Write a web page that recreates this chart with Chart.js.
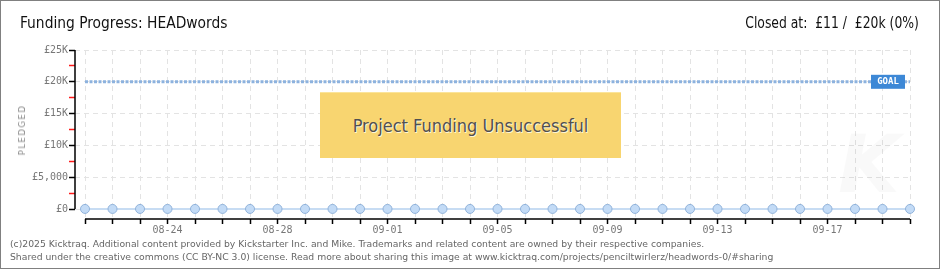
<!DOCTYPE html>
<html>
<head>
<meta charset="utf-8">
<script src="https://cdn.jsdelivr.net/npm/chart.js@4"></script>
<style>
  html, body { margin: 0; padding: 0; background: #fff; }
  #wrap { position: relative; width: 940px; height: 270px; overflow: hidden; }
  #frame { position: absolute; left: 0; top: 0; width: 938px; height: 267px; border: 1px solid #808080; pointer-events: none; }
  canvas { position: absolute; left: 0; top: 0; }
  .txt { position: absolute; white-space: nowrap; font-family: "DejaVu Sans", sans-serif; }
  #title { left: 20px; top: 13px; font-size: 16px; color: #111; font-stretch: condensed; transform-origin: left top; transform: scaleX(0.96); }
  #closed { right: 21px; top: 13px; font-size: 16px; color: #111; font-stretch: condensed; transform-origin: right top; transform: scaleX(0.86); }
  #ylab { left: 22px; top: 130px; font-size: 8.5px; color: #888; letter-spacing: 1.5px; transform: translate(-50%, -50%) rotate(-90deg); }
  #fail { left: 320px; top: 92px; width: 301px; height: 66px; background: #f8d570;
          border-top: 1px solid #fbe49a; box-sizing: border-box;
          display: flex; align-items: center; justify-content: center;
          font-family: "DejaVu Sans", sans-serif; font-stretch: condensed; font-size: 18px; color: #505050;
          text-shadow: 1px 1px 0 #fff6d8; }
  #wm { left: 838px; top: 118px; font-size: 80px; font-style: italic; color: rgba(0,0,0,0.025); font-weight: bold; }
  #foot { left: 10px; top: 237px; font-size: 9.25px; line-height: 13px; color: #666; }
</style>
</head>
<body>
<div id="wrap">
  <canvas id="c" width="940" height="270"></canvas>
  <div class="txt" id="wm">K</div>
  <div class="txt" id="fail">Project Funding Unsuccessful</div>
  <div class="txt" id="title">Funding Progress: HEADwords</div>
  <div class="txt" id="closed">Closed at:&nbsp; £11 / &nbsp;£20k (0%)</div>
  <div class="txt" id="ylab">PLEDGED</div>
  <div class="txt" id="foot">(c)2025 Kicktraq. Additional content provided by Kickstarter Inc. and Mike. Trademarks and related content are owned by their respective companies.<br>Shared under the creative commons (CC BY-NC 3.0) license. Read more about sharing this image at www.kicktraq.com/projects/penciltwirlerz/headwords-0/#sharing</div>
  <div id="frame"></div>
</div>
<script>
// dias 08-21 .. 09-20
const dates = [
  "08-21","08-22","08-23","08-24","08-25","08-26","08-27","08-28","08-29","08-30","08-31",
  "09-01","09-02","09-03","09-04","09-05","09-06","09-07","09-08","09-09","09-10",
  "09-11","09-12","09-13","09-14","09-15","09-16","09-17","09-18","09-19","09-20"
];
const pledged = [11,11,11,11,11,11,11,11,11,11,11,11,11,11,11,11,11,11,11,11,11,11,11,11,11,11,11,11,11,11,11];
const goal = 20000;
const yTicks = [0,2500,5000,7500,10000,12500,15000,17500,20000,22500,25000];
const yTickLabels = ["£0","","£5,000","","£10K","","£15K","","£20K","","£25K"];

// axis lines + GOAL tag
const extras = {
  id: "extras",
  afterDatasetsDraw(chart) {
    const ctx = chart.ctx;
    const x = chart.scales.x, y = chart.scales.y;
    const area = chart.chartArea;
    ctx.save();
    ctx.strokeStyle = "#000";
    ctx.lineWidth = 1.5;
    ctx.beginPath();
    ctx.moveTo(area.left, y.getPixelForValue(25000));
    ctx.lineTo(area.left, y.getPixelForValue(0));
    ctx.moveTo(x.getPixelForValue(0), area.bottom);
    ctx.lineTo(x.getPixelForValue(dates.length - 1), area.bottom);
    ctx.stroke();

    // GOAL tag
    const gy = y.getPixelForValue(goal);
    const gx = x.getPixelForValue(dates.length - 1) - 5;
    ctx.fillStyle = "#3d88d6";
    ctx.fillRect(gx - 34, gy - 7, 34, 14);
    ctx.fillStyle = "#fff";
    ctx.font = "bold 9px 'DejaVu Sans Mono'";
    ctx.textAlign = "center";
    ctx.textBaseline = "middle";
    ctx.fillText("GOAL", gx - 17, gy);
    ctx.restore();
  }
};

new Chart(document.getElementById("c"), {
  type: "line",
  data: {
    datasets: [
      {
        label: "Goal",
        data: dates.map((d, i) => ({ x: i, y: goal })),
        borderColor: "#8db2de",
        borderWidth: 3,
        borderDash: [3, 1.5],
        pointRadius: 0,
        fill: false,
        clip: false,
      },
      {
        label: "Pledged",
        data: pledged.map((v, i) => ({ x: i, y: v })),
        borderColor: "#c7dcf3",
        borderWidth: 2,
        pointRadius: 4.5,
        pointBackgroundColor: "#c3dbf6",
        pointBorderColor: "#90b2da",
        pointBorderWidth: 1,
        fill: false,
        clip: false,
      },
    ],
  },
  options: {
    responsive: false,
    animation: false,
    layout: { padding: { left: 0, top: 50, right: 30, bottom: 0 } },
    plugins: { legend: { display: false }, tooltip: { enabled: false } },
    scales: {
      x: {
        type: "linear",
        min: -0.364,
        max: dates.length - 1,
        afterBuildTicks: (a) => { a.ticks = dates.map((d, i) => ({ value: i })); },
        afterFit: (a) => { a.height = 51; },
        ticks: {
          autoSkip: false,
          maxRotation: 0,
          padding: 0,
          color: "#777",
          font: { family: "DejaVu Sans Mono", size: 10 },
          callback: (v) => (v % 4 === 3 ? dates[v] : ""),
        },
        grid: {
          color: "#e3e3e3",
          tickColor: "#000",
          tickLength: 5,
          tickWidth: 1.5,
        },
        border: { display: false, dash: [5, 4] },
      },
      y: {
        min: -1572,
        max: 25000,
        afterBuildTicks: (a) => { a.ticks = yTicks.map((v) => ({ value: v })); },
        afterFit: (a) => { a.width = 75; },
        ticks: {
          padding: 1,
          color: "#777",
          font: { family: "DejaVu Sans Mono", size: 10 },
          callback: (v) => yTickLabels[yTicks.indexOf(v)],
        },
        grid: {
          color: (c) => (c.tick && c.tick.value % 5000 === 0 ? "#e3e3e3" : "rgba(0,0,0,0)"),
          tickColor: (c) => (c.tick && c.tick.value % 5000 === 0 ? "#000" : "#ff1a1a"),
          tickLength: 6,
          tickWidth: 1.5,
        },
        border: { display: false, dash: [5, 4] },
      },
    },
  },
  plugins: [extras],
});
</script>
</body>
</html>
